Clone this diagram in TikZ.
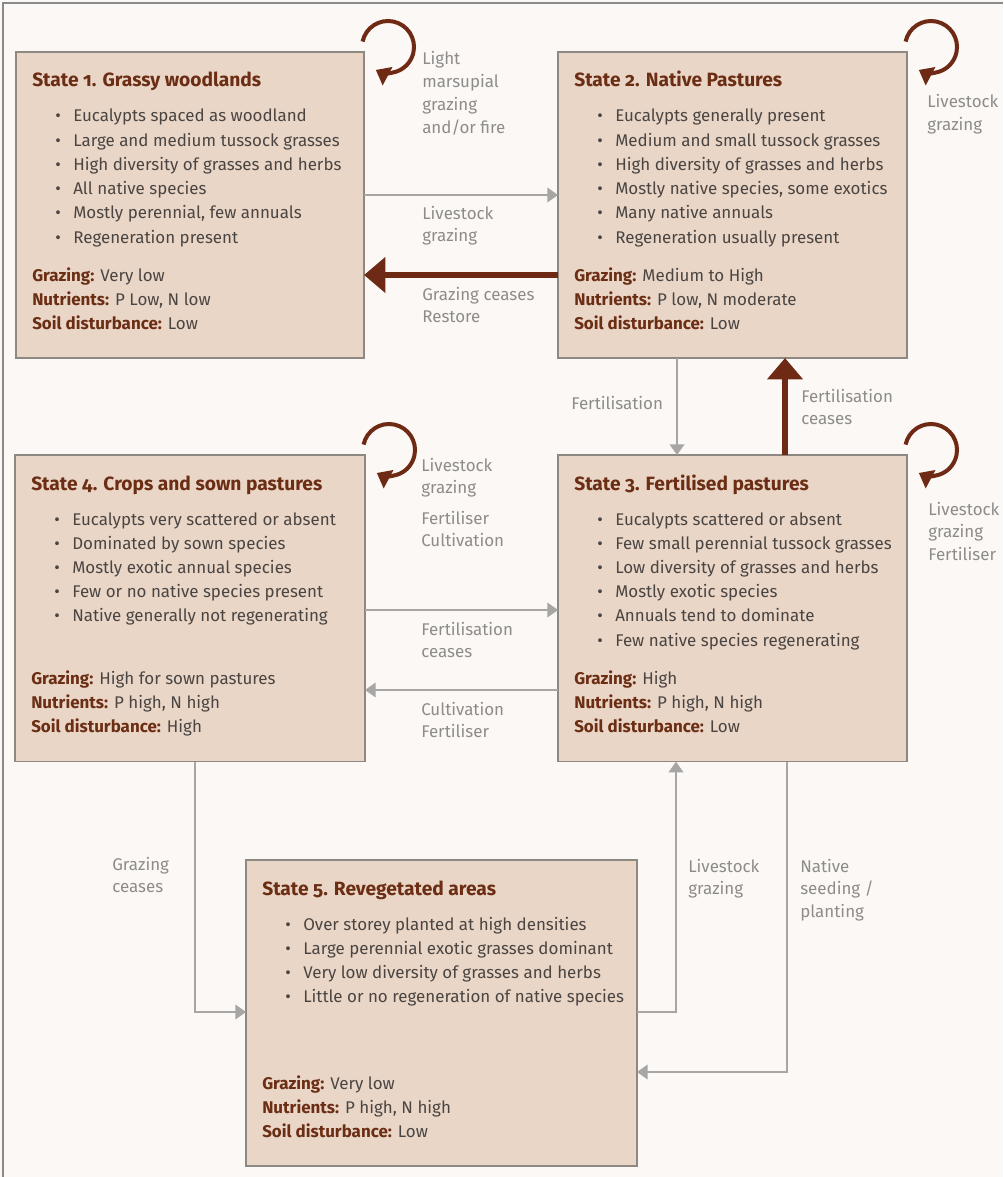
\documentclass[tikz,border=0pt]{standalone}
\usepackage{fontspec}
\setmainfont{Fira Sans}[Numbers=OldStyle]
\usetikzlibrary{arrows.meta,calc}

\definecolor{paper}{HTML}{FBF8F5}
\definecolor{boxfill}{HTML}{E9D6C7}
\definecolor{boxline}{HTML}{8E8883}
\definecolor{titlebrown}{HTML}{6B2D14}
\definecolor{bodygray}{HTML}{4A4542}
\definecolor{labelgray}{HTML}{8E8C8A}
\definecolor{arrowgray}{HTML}{A8A6A4}
\definecolor{arrowbrown}{HTML}{6E2A14}
\definecolor{frameline}{HTML}{8A8A8A}

\tikzset{
  statebox/.style={draw=boxline, fill=boxfill, line width=0.9pt, inner sep=0pt,
    outer sep=0pt, anchor=north west},
  titletext/.style={font=\bfseries\fontsize{14.4}{17}\selectfont, text=titlebrown,
    inner sep=0pt, anchor=base west},
  bodytext/.style={font=\fontsize{12.7}{15}\selectfont, text=bodygray,
    inner sep=0pt, anchor=base west},
  labeltext/.style={font=\fontsize{12.7}{15}\selectfont, text=labelgray,
    inner sep=0pt, anchor=base west},
  thinarrow/.style={draw=arrowgray, line width=1.2pt,
    -{Triangle[length=8pt,width=11pt]}},
  thickarrow/.style={draw=arrowbrown, line width=4.5pt,
    -{Triangle[length=16pt,width=26pt]}},
  looparrow/.style={draw=arrowbrown, line width=3pt,
    -{Triangle[length=10pt,width=15pt]}},
}

% title, bullet list and the three summary lines of a state box
\newcommand\statebody[6]{%
  \node[titletext] (#1-title) at ($(#1.north west)+(16,35)$) {#2};
  \foreach \b [count=\i from 0] in {#3} {
    \node[bodytext, anchor=base] (#1-dot-\i) at ($(#1.north west)+(42,{70+24.2*\i})$) {\textbullet};
    \node[bodytext] (#1-item-\i) at ($(#1.north west)+(57,{70+24.2*\i})$) {\b};
  }
  \node[bodytext] (#1-graz) at ($(#1.north west)+(16,229)$)
    {\textcolor{titlebrown}{\bfseries Grazing:} #4};
  \node[bodytext] (#1-nutr) at ($(#1.north west)+(16,253)$)
    {\textcolor{titlebrown}{\bfseries Nutrients:} #5};
  \node[bodytext] (#1-soil) at ($(#1.north west)+(16,277)$)
    {\textcolor{titlebrown}{\bfseries Soil disturbance:} #6};
}

% a stack of connector label lines, first baseline at (x,y)
\newcommand\lbl[4]{%
  \foreach \t [count=\i from 0] in {#4} {
    \node[labeltext] (#1-\i) at (#2,{#3+22.7*\i}) {\t};
  }
}

\begin{document}
\begin{tikzpicture}[x=0.75pt, y=-0.75pt]
  \useasboundingbox (0,0) rectangle (1003,1177);
  \fill[paper] (0,0) rectangle (1003,1177);
  \draw[frameline, line width=0.8pt] (1003,3) -- (3,3) -- (3,1177);

  % state boxes
  \node[statebox, minimum width=261pt, minimum height=229.5pt] (b1) at (16,52) {};
  \node[statebox, minimum width=261.75pt, minimum height=229.5pt] (b2) at (558,52) {};
  \node[statebox, minimum width=261.75pt, minimum height=230pt] (b3) at (558,455) {};
  \node[statebox, minimum width=262.5pt, minimum height=230pt] (b4) at (15,455) {};
  \node[statebox, minimum width=293.25pt, minimum height=229.5pt] (b5) at (246,860) {};

  \statebody{b1}{State 1. Grassy woodlands}
    {Eucalypts spaced as woodland, Large and medium tussock grasses,
     High diversity of grasses and herbs, All native species,
     {Mostly perennial, few annuals}, Regeneration present}
    {Very low}{P Low, N low}{Low}
  \statebody{b2}{State 2. Native Pastures}
    {Eucalypts generally present, Medium and small tussock grasses,
     High diversity of grasses and herbs, {Mostly native species, some exotics},
     Many native annuals, Regeneration usually present}
    {Medium to High}{P low, N moderate}{Low}
  \statebody{b3}{State 3. Fertilised pastures}
    {Eucalypts scattered or absent, Few small perennial tussock grasses,
     Low diversity of grasses and herbs, Mostly exotic species,
     Annuals tend to dominate, Few native species regenerating}
    {High}{P high, N high}{Low}
  \statebody{b4}{State 4. Crops and sown pastures}
    {Eucalypts very scattered or absent, Dominated by sown species,
     Mostly exotic annual species, Few or no native species present,
     Native generally not regenerating}
    {High for sown pastures}{P high, N high}{High}
  \statebody{b5}{State 5. Revegetated areas}
    {Over storey planted at high densities, Large perennial exotic grasses dominant,
     Very low diversity of grasses and herbs, Little or no regeneration of native species}
    {Very low}{P high, N high}{Low}

  % transitions between states
  \draw[thinarrow] ($(b1.north east)+(0,143)$) -- ($(b2.north west)+(0,143)$);
  \draw[thickarrow] ($(b2.north west)+(0,223)$) -- ($(b1.north east)+(0,223)$);
  \draw[thinarrow] ($(b2.south west)+(119,0)$) -- ($(b3.north west)+(119,0)$);
  \draw[thickarrow] ($(b3.north west)+(227,0)$) -- ($(b2.south west)+(227,0)$);
  \draw[thinarrow] ($(b4.north east)+(0,155)$) -- ($(b3.north west)+(0,155)$);
  \draw[thinarrow] ($(b3.north west)+(0,235)$) -- ($(b4.north east)+(0,235)$);
  \draw[thinarrow] ($(b4.south west)+(180,0)$) |- ($(b5.north west)+(0,152)$);
  \draw[thinarrow] ($(b5.north east)+(0,152)$) -| ($(b3.south west)+(118,0)$);
  \draw[thinarrow] ($(b3.south west)+(229,0)$) |- ($(b5.north east)+(0,212)$);

  % self transitions
  \foreach \s in {b1,b2,b3,b4}
    \draw[looparrow] ($(\s.north east)+(24,-5)$) ++(168:19.5pt)
      arc[start angle=168, end angle=-118, radius=19.5pt];

  % transition labels
  \lbl{l1}{422}{65}{Light, marsupial, grazing, and/or fire}
  \lbl{l2}{422}{219}{Livestock, grazing}
  \lbl{l3}{422}{300}{Grazing ceases, Restore}
  \lbl{l4}{927}{108}{Livestock, grazing}
  \lbl{l5}{571}{409}{Fertilisation}
  \lbl{l6}{801}{402}{Fertilisation, ceases}
  \lbl{l7}{928}{515}{Livestock, grazing, Fertiliser}
  \lbl{l8}{421}{471}{Livestock, grazing}
  \lbl{l9}{421}{524}{Fertiliser, Cultivation}
  \lbl{l10}{421}{635}{Fertilisation, ceases}
  \lbl{l11}{421}{715}{Cultivation, Fertiliser}
  \lbl{l12}{112}{870}{Grazing, ceases}
  \lbl{l13}{688}{872}{Livestock, grazing}
  \lbl{l14}{800}{872}{Native, seeding /, planting}
\end{tikzpicture}
\end{document}
